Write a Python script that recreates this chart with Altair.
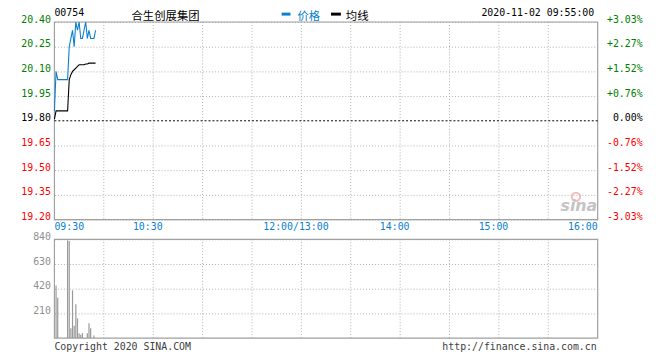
import altair as alt
import pandas as pd

# ---------------- data ----------------
minutes = list(range(26))  # trading minutes after 09:30
price = [19.86, 20.10, 20.05, 20.05, 20.05, 20.05, 20.05, 20.05, 20.05, 20.25,
         20.30, 20.35, 20.25, 20.40, 20.35, 20.40, 20.30, 20.30, 20.35, 20.40,
         20.30, 20.35, 20.30, 20.30, 20.30, 20.35]
avg_price = [19.81, 19.86, 19.86, 19.86, 19.86, 19.86, 19.86, 19.86, 19.86, 20.05,
             20.08, 20.10, 20.11, 20.12, 20.13, 20.14, 20.14, 20.14, 20.14, 20.145,
             20.145, 20.15, 20.15, 20.15, 20.15, 20.15]
vol_minutes = [1, 2, 8, 9, 10, 11, 12, 13, 14, 15, 16, 17, 20, 21, 22, 24]
volume = [448, 344, 832, 826, 84, 406, 104, 288, 168, 42, 28, 42, 42, 126, 84, 22]

prev_close = 19.80
price_ticks = [19.20, 19.35, 19.50, 19.65, 19.80, 19.95, 20.10, 20.25, 20.40]
volume_ticks = [210, 420, 630, 840]
time_ticks = [0, 60, 150, 210, 270, 330]
time_labels = ["09:30", "10:30", "12:00/13:00", "14:00", "15:00", "16:00"]
grid_minutes = [30, 60, 90, 120, 150, 180, 210, 240, 270, 300]

BLUE = "#0a7fd0"
GRID = "#b0b0b0"
BORDER = "#a0a0a0"
GREEN = "#008000"
RED = "#ff0000"
MONO = "DejaVu Sans Mono"
CJK = "Noto Sans CJK SC"

price_df = pd.DataFrame({"m": minutes, "price": price, "avg": avg_price})
vol_df = pd.DataFrame({"m": vol_minutes, "vol": volume})
grid_df = pd.DataFrame({"m": grid_minutes})
time_df = pd.DataFrame({"t": time_ticks, "label": time_labels})
one = alt.Data(values=[{}])


def X():
    return alt.Scale(domain=[0, 330], nice=False, zero=False)


def PY():
    return alt.Scale(domain=[19.20, 20.40], range=[200, 0], nice=False, zero=False)


def VY():
    return alt.Scale(domain=[0, 840], range=[320, 220], nice=False, zero=False)


color_cond = {"condition": [
    {"test": f"datum.value > {prev_close} + 0.001", "value": GREEN},
    {"test": f"datum.value > {prev_close} - 0.001", "value": "#000000"}],
    "value": RED}

price_axis = alt.Axis(values=price_ticks, orient="left", format=".2f", labelFont=MONO,
                      labelFontSize=10, labelBaseline="alphabetic", labelPadding=4,
                      ticks=False, tickSize=0, domain=False, grid=True, gridColor=GRID,
                      gridDash=[1, 2], title=None, labelOverlap=False, labelBound=False,
                      gridOpacity={"condition": {"test": f"abs(datum.value - {prev_close}) < 0.001",
                                                 "value": 0}, "value": 1},
                      labelColor=color_cond)

pct_expr = (f"(datum.value > {prev_close} + 0.001 ? '+' : datum.value < {prev_close} - 0.001 ? '-' : '')"
            f" + format(abs((datum.value / {prev_close} - 1) * 100), '.2f') + '%'")
pct_axis = alt.Axis(values=price_ticks, orient="right", labelExpr=pct_expr, labelFont=MONO,
                    labelFontSize=10, labelBaseline="alphabetic", labelAlign="right",
                    labelPadding=45, ticks=False, tickSize=0, domain=False, grid=False,
                    title=None, labelOverlap=False, labelBound=False, labelColor=color_cond)

vol_axis = alt.Axis(values=volume_ticks, orient="left", format="d", labelFont=MONO,
                    labelFontSize=10, labelBaseline="alphabetic", labelPadding=4,
                    labelColor="#909090", ticks=False, tickSize=0, domain=False, grid=True,
                    gridColor=GRID, gridDash=[1, 2], title=None, labelOverlap=False,
                    labelBound=False)

# ---------------- price panel ----------------
p_grid = alt.Chart(grid_df).mark_rule(color=GRID, strokeDash=[1, 2], strokeWidth=1).encode(
    x=alt.X("m:Q", scale=X(), axis=None),
    y=alt.YDatum(20.40, scale=PY(), axis=None), y2=alt.Y2Datum(19.20))
p_border = alt.Chart(one).mark_rect(fillOpacity=0, stroke=BORDER, strokeWidth=1.2).encode(
    x=alt.XDatum(0, axis=None), x2=alt.X2Datum(330),
    y=alt.YDatum(20.40, scale=PY(), axis=None), y2=alt.Y2Datum(19.20))
p_zero = alt.Chart(one).mark_rule(color="#000000", strokeDash=[2, 2], strokeWidth=1).encode(
    x=alt.XDatum(0, axis=None), x2=alt.X2Datum(330),
    y=alt.YDatum(prev_close, scale=PY(), axis=None))
p_avg = alt.Chart(price_df).mark_line(color="#000000", strokeWidth=1.1).encode(
    x=alt.X("m:Q", axis=None),
    y=alt.Y("avg:Q", scale=PY(), axis=None))
p_line = alt.Chart(price_df).mark_line(color=BLUE, strokeWidth=1.1).encode(
    x=alt.X("m:Q", axis=None),
    y=alt.Y("price:Q", scale=PY(), axis=price_axis))
# percent axis (same price values, percentage labels)
pct_layer = alt.Chart(price_df).mark_line(strokeOpacity=0).encode(
    x=alt.X("m:Q", axis=None),
    y=alt.Y("price:Q", scale=PY(), axis=pct_axis))

# time labels between the two panels, placed through the x scale
def time_text(df, align, dx):
    return alt.Chart(df).mark_text(color=BLUE, font=MONO, fontSize=10, align=align,
                                   baseline="top", dx=dx).encode(
        x=alt.X("t:Q", axis=None), y=alt.value(203), text="label:N")


t_first = time_text(time_df.iloc[[0]], "left", 0)
t_mid = time_text(time_df.iloc[1:-1], "center", -5.5)
t_last = time_text(time_df.iloc[[-1]], "right", 0)

# ---------------- volume panel ----------------
v_grid = alt.Chart(grid_df).mark_rule(color=GRID, strokeDash=[1, 2], strokeWidth=1).encode(
    x=alt.X("m:Q", axis=None),
    y=alt.YDatum(840, scale=VY(), axis=None), y2=alt.Y2Datum(0))
v_border = alt.Chart(one).mark_rect(fillOpacity=0, stroke=BORDER, strokeWidth=1.2).encode(
    x=alt.XDatum(0, axis=None), x2=alt.X2Datum(330),
    y=alt.YDatum(840, scale=VY(), axis=None), y2=alt.Y2Datum(0))
v_bars = alt.Chart(vol_df).mark_rule(color="#999999", strokeWidth=1.2).encode(
    x=alt.X("m:Q", axis=None),
    y=alt.Y("vol:Q", scale=VY(), axis=vol_axis), y2=alt.Y2Datum(0))


# ---------------- annotations ----------------
def txt(s, x, y, color="#000000", font=MONO, size=10, align="left", baseline="alphabetic",
        **kw):
    return alt.Chart(one).mark_text(color=color, font=font, fontSize=size, align=align,
                                    baseline=baseline, **kw).encode(
        x=alt.value(x), y=alt.value(y), text=alt.value(s))


annotations = [
    txt("00754", 0, -6.5),
    txt("合生创展集团", 112.5, -5.5, font=CJK, size=11.5, align="center", baseline="middle"),
    alt.Chart(one).mark_rule(color=BLUE, strokeWidth=3).encode(
        x=alt.value(230), x2=alt.value(239), y=alt.value(-8)),
    txt("价格", 246, -5.5, color=BLUE, font=CJK, size=11.5, baseline="middle"),
    alt.Chart(one).mark_rule(color="#000000", strokeWidth=3).encode(
        x=alt.value(280), x2=alt.value(290), y=alt.value(-8)),
    txt("均线", 295, -5.5, font=CJK, size=11.5, baseline="middle"),
    txt("2020-11-02 09:55:00", 546.5, -6.5, align="right"),
    txt("Copyright 2020 SINA.COM", 0, 332, color="#404040"),
    txt("http://finance.sina.com.cn", 549, 332, color="#404040", align="right"),
    alt.Chart(one).mark_point(shape="circle", size=70, stroke="#f2a0a0", strokeWidth=2,
                              filled=False).encode(x=alt.value(528), y=alt.value(177)),
    txt("sina", 531, 191, color="#c4c4c4", font="DejaVu Sans", size=16, align="center",
        fontStyle="italic", fontWeight="bold"),
]

chart = alt.layer(p_grid, p_border, p_zero, p_avg, p_line, pct_layer,
                  t_first, t_mid, t_last,
                  v_grid, v_border, v_bars, *annotations).resolve_scale(
    y="independent").resolve_axis(y="independent").properties(
    width=550, height=320,
    autosize=alt.AutoSizeParams(type="none"),
    padding={"left": 47, "top": 12, "right": 55, "bottom": 20},
    background="#ffffff",
).configure_view(strokeWidth=0)

chart.save("out.html", embed_options={"renderer": "svg", "actions": False})
